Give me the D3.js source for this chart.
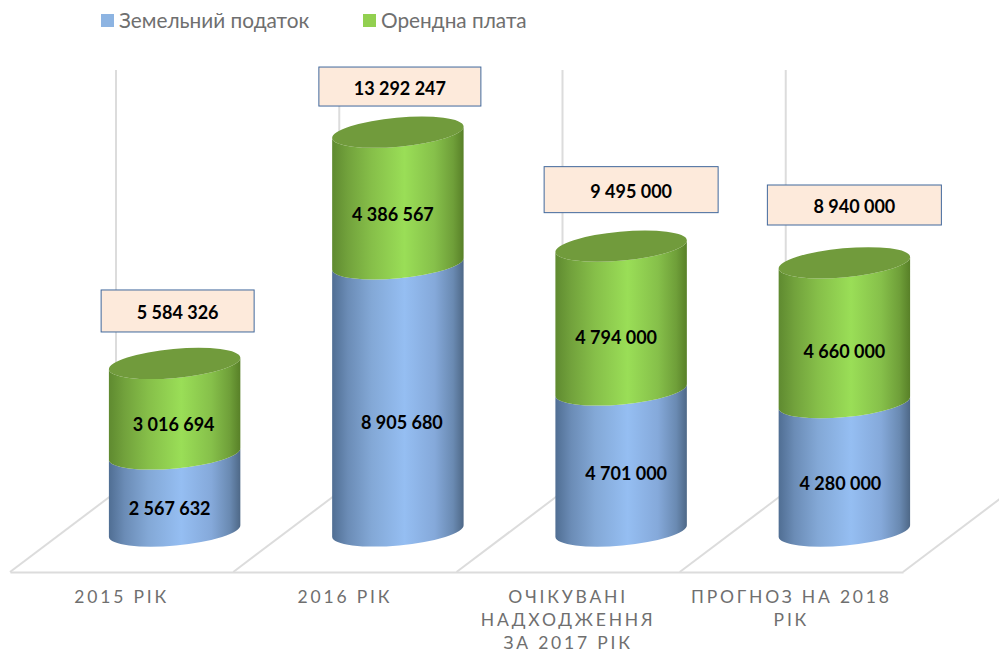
<!DOCTYPE html>
<html><head><meta charset="utf-8">
<script src="https://cdnjs.cloudflare.com/ajax/libs/d3/7.8.5/d3.min.js"></script>
<style>html,body{margin:0;padding:0;background:#fff}svg{display:block}text{font-family:Lato,"Open Sans",sans-serif}</style>
</head><body><svg id="c" width="999" height="654"></svg>
<script>
const categories = ["2015 РІК","2016 РІК","ОЧІКУВАНІ НАДХОДЖЕННЯ ЗА 2017 РІК","ПРОГНОЗ НА 2018 РІК"];
const categoryLines = [["2015 РІК"],["2016 РІК"],["ОЧІКУВАНІ","НАДХОДЖЕННЯ","ЗА 2017 РІК"],["ПРОГНОЗ НА 2018","РІК"]];
const seriesNames = ["Земельний податок","Орендна плата"];
const landTax = [2567632,8905680,4701000,4280000];
const rent = [3016694,4386567,4794000,4660000];
const totals = [5584326,13292247,9495000,8940000];

// layout nudges (label placement, not data)
const taxNudge = [[-5,15.5],[4,24.6],[5,12.5],[-4,16.2]];
const rentNudge = [[-1,15],[-5,16],[-5,19],[0,18]];
const boxW = [153,162,174,174], boxH = [42,39,46,40], boxDx=[3,2,10,10], boxDy=[-52.5,-45.7,-56.5,-57.8];

const svg = d3.select("#c");
const fmt = v => d3.format(",")(v).replace(/,/g," ");
const x = d3.scaleBand().domain(categories).range([10,903]).padding(0);
const y = d3.scaleLinear().domain([0,14000000]).range([531,111]);
const depthX = 106, depthY = 80, floorY = 572, wallTop = 70;
const rx = 66, ry = 14.5, rot = -5.2, rad = rot*Math.PI/180;
const ex = rx*Math.cos(rad), ey = rx*Math.sin(rad);
const cx = c => x(c)+x.bandwidth()/2+53;

const defs = svg.append("defs");
function grad(id,stops){
  const g = defs.append("linearGradient").attr("id",id).attr("x1","0%").attr("x2","100%").attr("y1","0%").attr("y2","0%");
  stops.forEach(s=>g.append("stop").attr("offset",s[0]).attr("stop-color",s[1]));
}
grad("gBlue",[["0%","#506e93"],["12%","#6b8cb6"],["30%","#83a8d6"],["55%","#95bef2"],["78%","#85a9da"],["92%","#6a8ab2"],["100%","#4e6887"]]);
grad("gGreen",[["0%","#5f8a30"],["12%","#72a23c"],["30%","#86bf49"],["55%","#9ade57"],["78%","#86c04a"],["92%","#6f9f39"],["100%","#588028"]]);

const grid = svg.append("g").attr("stroke","#dcdcdc").attr("stroke-width",2).attr("fill","none");
const ticks = x.domain().map(c=>x(c)).concat([x.range()[1]]);
grid.selectAll("line.v").data(ticks.slice(0,4)).join("line").attr("class","v")
  .attr("x1",d=>d+depthX).attr("x2",d=>d+depthX).attr("y1",wallTop).attr("y2",floorY-depthY);
grid.selectAll("line.d").data(ticks).join("line").attr("class","d")
  .attr("x1",d=>d).attr("y1",floorY).attr("x2",d=>d+depthX).attr("y2",floorY-depthY);

const axis = svg.append("g").attr("transform",`translate(0,${floorY})`).call(d3.axisBottom(x).tickSize(0).tickFormat(""));
axis.select(".domain").attr("stroke","#dcdcdc").attr("stroke-width",2);

categories.forEach((c,i)=>{
  const t = svg.append("text").attr("text-anchor","middle").attr("fill","#6f6f6f")
    .attr("font-size",17.5).attr("letter-spacing","2.8px");
  categoryLines[i].forEach((l,k)=>t.append("tspan").attr("x",x(c)+x.bandwidth()/2).attr("y",603+k*23).text(l));
});

function seg(c,v0,v1){
  const L=cx(c)-ex,R=cx(c)+ex,y0=y(v0),y1=y(v1);
  return `M${L},${y1-ey}L${L},${y0-ey}A${rx},${ry},${rot},0,0,${R},${y0+ey}L${R},${y1+ey}A${rx},${ry},${rot},0,1,${L},${y1-ey}Z`;
}
categories.forEach((c,i)=>{
  svg.append("path").attr("d",seg(c,0,landTax[i])).attr("fill","url(#gBlue)");
  svg.append("path").attr("d",seg(c,landTax[i],landTax[i]+rent[i])).attr("fill","url(#gGreen)");
  svg.append("ellipse").attr("cx",0).attr("cy",0).attr("rx",rx).attr("ry",ry)
    .attr("transform",`translate(${cx(c)},${y(landTax[i]+rent[i])}) rotate(${rot})`).attr("fill","#719b3c");
});

function valLabel(px,py,v,size){
  svg.append("text").attr("x",px).attr("y",py).attr("text-anchor","middle").attr("dominant-baseline","central")
    .attr("font-size",size).attr("font-weight",700).attr("fill","#000").text(fmt(v));
}
categories.forEach((c,i)=>{
  valLabel(cx(c)+taxNudge[i][0],y(landTax[i]/2)+taxNudge[i][1],landTax[i],18);
  valLabel(cx(c)+rentNudge[i][0],y(landTax[i]+rent[i]/2)+rentNudge[i][1],rent[i],18);
  const top = y(totals[i])+boxDy[i], bx = cx(c)+boxDx[i];
  svg.append("rect").attr("x",bx-boxW[i]/2).attr("y",top-boxH[i]/2).attr("width",boxW[i]).attr("height",boxH[i])
    .attr("fill","#fdeadb").attr("stroke","#41689c").attr("stroke-width",1);
  valLabel(bx,top+1,totals[i],18);
});

const legendX=[101,363], legendColor=["#8db4e2","#92d050"];
seriesNames.forEach((n,i)=>{
  svg.append("rect").attr("x",legendX[i]).attr("y",14).attr("width",13).attr("height",13).attr("fill",legendColor[i]);
  svg.append("text").attr("x",legendX[i]+18).attr("y",28).attr("font-size",20.8).attr("fill","#6f6f6f").text(n);
});
</script></body></html>
